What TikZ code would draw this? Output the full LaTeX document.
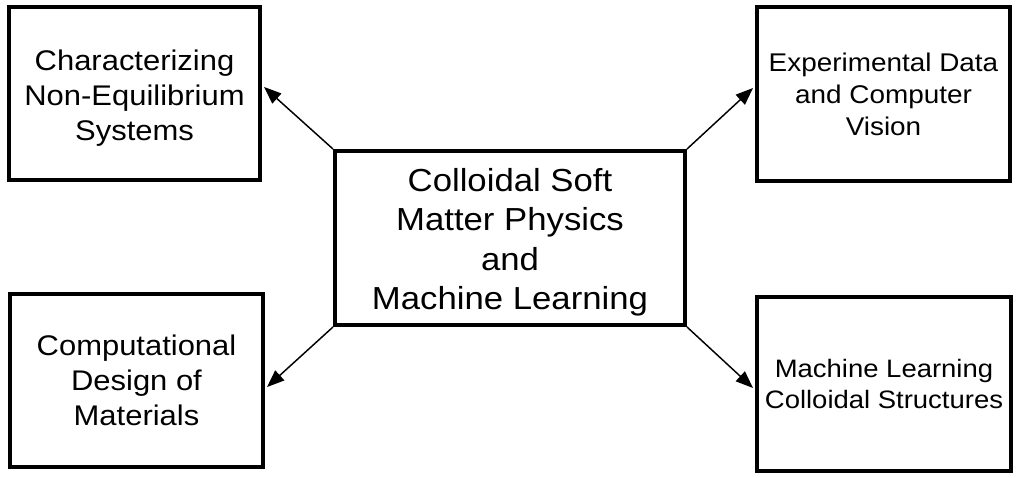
\documentclass[tikz,border=0pt]{standalone}
\usepackage{fontspec}
\setmainfont[FakeStretch=1.09]{Liberation Sans}
\usetikzlibrary{arrows.meta}
\newcommand\toppad[1]{\rule{0pt}{#1}}
\begin{document}
\begin{tikzpicture}[x=0.75pt,y=-0.75pt,
  box/.style={draw, line width=3pt, inner sep=0pt, align=center, rectangle},
  bigtxt/.style={font=\fontsize{23.9pt}{29.5pt}\selectfont},
  lefttxt/.style={font=\fontsize{21.3pt}{26.25pt}\selectfont},
  rtoptxt/.style={font=\fontsize{19.2pt}{24pt}\selectfont},
  rbottxt/.style={font=\fontsize{18.9pt}{23.25pt}\selectfont},
  conn/.style={line width=1.1pt, -{Triangle[length=13pt,width=10pt]}}]
\useasboundingbox (0,0) rectangle (1018,478);
\node[box, bigtxt, minimum width=262.5pt, minimum height=130.5pt] (C) at (510,238)
  {\toppad{23.7pt}Colloidal Soft\\Matter Physics\\and\\Machine Learning};
\node[box, lefttxt, minimum width=188.25pt, minimum height=129.75pt] (TL) at (134.5,93.5)
  {\toppad{21.8pt}Characterizing\\Non-Equilibrium\\Systems};
\node[box, lefttxt, minimum width=189.75pt, minimum height=129.75pt] (BL) at (136.5,380.5)
  {Computational\\Design of\\Materials};
\node[box, rtoptxt, minimum width=189.75pt, minimum height=130.5pt] (TR) at (883.5,94)
  {Experimental Data\\and Computer\\Vision};
\node[box, rbottxt, minimum width=190.5pt, minimum height=130.5pt] (BR) at (884,384)
  {Machine Learning\\Colloidal Structures};
\draw[conn] (C.north west) -- ([xshift=1.5pt,yshift=4.9pt]TL.east);
\draw[conn] (C.north east) -- ([xshift=-1.5pt,yshift=4.5pt]TR.west);
\draw[conn] (C.south west) -- ([xshift=1.5pt,yshift=-4.9pt]BL.east);
\draw[conn] (C.south east) -- ([xshift=-1.5pt,yshift=-3pt]BR.west);
\end{tikzpicture}
\end{document}
